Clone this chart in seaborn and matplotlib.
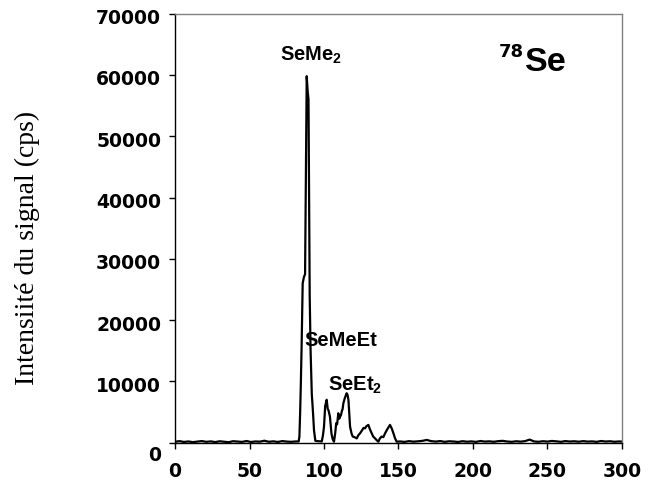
import matplotlib
matplotlib.use("Agg")
import matplotlib.pyplot as plt
import matplotlib.transforms as mtransforms
import seaborn as sns

# Chromatogram 78Se - retention time (s) and signal intensity (cps)
t_left = [0, 3, 6, 9, 12, 15, 18, 21, 24, 27, 30, 33, 36, 39, 42, 45, 48, 51, 54, 57,
          60, 63, 66, 69, 72, 75, 78, 81]
i_left = [150, 250, 120, 200, 90, 180, 260, 140, 210, 100, 230, 160, 80, 240, 190, 130,
          270, 110, 200, 170, 320, 150, 220, 120, 260, 180, 140, 200]

t_peaks = [83.0, 83.5, 84.0, 84.4, 85.0, 85.7, 86.5, 87.3, 87.9, 88.4, 89.0, 89.6, 90.0,
           90.4, 91.0, 91.8, 92.6, 93.3, 94.2, 96.0, 98.5, 99.3, 100.0, 100.8, 101.8,
           102.5, 103.0, 104.0, 105.0, 105.8, 106.7, 107.5, 108.2, 108.8, 109.6, 110.2,
           110.8, 111.4, 111.9, 112.5, 113.0, 114.0, 115.2, 115.8, 116.4, 117.5, 118.5,
           119.3, 120.5, 122.0, 123.0, 124.2, 125.5, 126.5, 127.5, 128.5, 129.8, 130.8,
           132.0, 133.0, 134.3, 135.4, 136.5, 137.5, 138.7, 139.8, 141.0, 142.5, 144.3,
           145.5, 146.6, 147.7, 148.8]
i_peaks = [200, 1000, 5000, 9000, 16000, 26000, 27000, 27500, 45000, 59800, 57500, 56000,
           40000, 24000, 15000, 8000, 5000, 2000, 300, 250, 200, 1200, 2600, 6000, 7000,
           5500, 5300, 4250, 1500, 600, 160, 1500, 3200, 3000, 4800, 3900, 4250, 4500,
           5070, 5500, 6430, 7300, 8070, 7800, 7000, 2600, 1500, 1000, 900, 700, 1200,
           1530, 2000, 2400, 2340, 2700, 2900, 2200, 1530, 1000, 700, 400, 160, 700, 1000,
           900, 1530, 2200, 2900, 2300, 1530, 700, 160]

t_right = [151, 154, 157, 160, 163, 166, 169, 172, 175, 178, 181, 184, 187, 190, 193, 196,
           199, 202, 205, 208, 211, 214, 217, 220, 223, 226, 229, 232, 235, 238, 241, 244,
           247, 250, 253, 256, 259, 262, 265, 268, 271, 274, 277, 280, 283, 286, 289, 292,
           295, 298, 300]
i_right = [200, 130, 250, 170, 220, 300, 450, 250, 180, 260, 140, 230, 190, 120, 240, 160,
           210, 130, 270, 180, 220, 150, 250, 300, 190, 140, 230, 170, 260, 500, 200, 150,
           240, 180, 280, 220, 140, 260, 190, 230, 160, 250, 180, 210, 140, 270, 190, 230,
           150, 200, 180]

time = t_left + t_peaks + t_right
signal = i_left + i_peaks + i_right

peak_labels = ["SeMe", "SeMeEt", "SeEt"]

sns.set_style("ticks")
plt.rcParams['font.family'] = ['Liberation Sans', 'DejaVu Sans']
plt.rcParams['mathtext.fontset'] = 'custom'
plt.rcParams['mathtext.rm'] = 'Liberation Sans:bold'
plt.rcParams['mathtext.default'] = 'rm'
plt.rcParams['text.color'] = 'black'
plt.rcParams['axes.labelcolor'] = 'black'
plt.rcParams['xtick.color'] = 'black'
plt.rcParams['ytick.color'] = 'black'

fig = plt.figure(figsize=(6.53, 4.87), dpi=100)
ax = fig.add_axes([0.268, 0.091, 0.6845, 0.881])

sns.lineplot(x=time, y=signal, color='black', linewidth=1.6, sort=False,
             estimator=None, ax=ax)

ax.set_xlim(0, 300)
ax.set_ylim(0, 70000)
ax.set_xticks(range(0, 301, 50))
ax.set_yticks(range(0, 70001, 10000))
ax.tick_params(axis='both', direction='out', length=4, width=1, color='black')
ax.tick_params(axis='x', pad=10)
ax.tick_params(axis='y', pad=6)
for lab in ax.get_xticklabels() + ax.get_yticklabels():
    lab.set_fontfamily('DejaVu Sans')
    lab.set_fontweight('bold')
    lab.set_fontsize(13.5)

# y labels sit a little below their ticks, the "0" much lower
for i, lab in enumerate(ax.get_yticklabels()):
    dy = -11 if i == 0 else -3
    lab.set_transform(lab.get_transform() +
                      mtransforms.ScaledTranslation(0, dy / 100, fig.dpi_scale_trans))

for side in ['left', 'bottom']:
    ax.spines[side].set_color('black')
    ax.spines[side].set_linewidth(1)
for side in ['top', 'right']:
    ax.spines[side].set_visible(True)
    ax.spines[side].set_color('#808080')
    ax.spines[side].set_linewidth(1)

ax.set_ylabel('')
ax.set_xlabel('')
fig.text(27.5 / 653, 1 - 248 / 487, 'Intensiité du signal (cps)', family='Liberation Serif',
         fontsize=20, rotation=90, ha='center', va='center')

# peak names
ax.text(70.5, 62300, peak_labels[0] + '$_2$', fontsize=14.5, fontweight='bold',
        ha='left', va='baseline')
ax.text(86.8, 15700, peak_labels[1], fontsize=14.5, fontweight='bold',
        ha='left', va='baseline')
ax.text(102.5, 8450, peak_labels[2] + '$_2$', fontsize=14.5, fontweight='bold',
        ha='left', va='baseline')

# isotope
ax.text(235, 60660, 'Se', fontsize=24.5, fontweight='bold', ha='left', va='baseline')
ax.text(234.4, 62850, '78', family='DejaVu Sans', fontsize=13, fontweight='bold',
        ha='right', va='baseline')

fig.savefig('out.png', dpi=100)
